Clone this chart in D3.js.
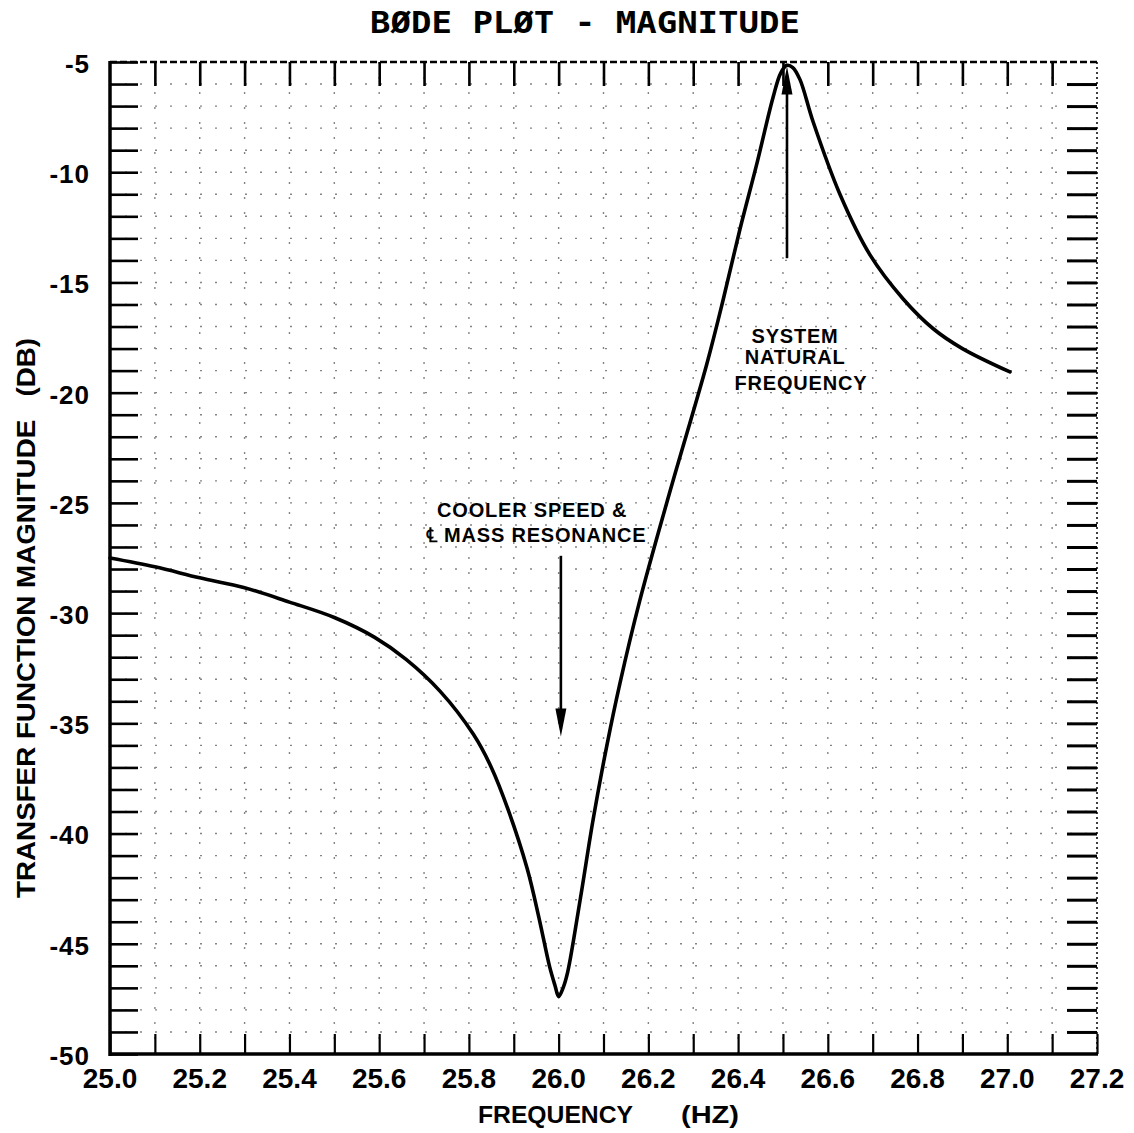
<!DOCTYPE html>
<html>
<head>
<meta charset="utf-8">
<script src="https://cdn.jsdelivr.net/npm/d3@7"></script>
<style>
  html, body { margin: 0; padding: 0; background: #fff; }
  svg { display: block; }
</style>
</head>
<body>
<script>
// ---- data ----
const freqHz = [25.0, 25.1, 25.2, 25.3, 25.4, 25.5, 25.59, 25.66, 25.736, 25.81, 25.85, 25.888, 25.93, 25.957, 25.98, 25.992, 26.0, 26.01, 26.02, 26.048, 26.077, 26.108, 26.137, 26.18, 26.25, 26.33, 26.367, 26.404, 26.442, 26.478, 26.495, 26.509, 26.522, 26.538, 26.567, 26.627, 26.694, 26.768, 26.835, 26.90, 27.006];
const magDb  = [-27.5, -27.9, -28.4, -28.85, -29.5, -30.2, -31.1, -32.1, -33.55, -35.5, -37.0, -38.95, -41.6, -43.9, -46.05, -46.9, -47.4, -47.0, -46.3, -43.0, -39.35, -35.95, -33.15, -29.5, -24.35, -18.72, -15.76, -12.6, -9.6, -6.6, -5.5, -5.15, -5.25, -5.8, -7.7, -11.0, -13.75, -15.75, -17.1, -18.0, -19.06];

const xTickValues = [25.0, 25.2, 25.4, 25.6, 25.8, 26.0, 26.2, 26.4, 26.6, 26.8, 27.0, 27.2];
const xTickLabels = ["25.0", "25.2", "25.4", "25.6", "25.8", "26.0", "26.2", "26.4", "26.6", "26.8", "27.0", "27.2"];
const yTickValues = [-5, -10, -15, -20, -25, -30, -35, -40, -45, -50];
const yTickLabels = ["-5", "-10", "-15", "-20", "-25", "-30", "-35", "-40", "-45", "-50"];

// annotation arrows (data coordinates)
const arrowFreq   = [26.005, 26.509];
const arrowFromDb = [-27.4, -13.9];
const arrowToDb   = [-35.6, -5.2];

// annotation texts (data coordinates of each line's centre / baseline)
const noteLines = ["COOLER SPEED &", "\u2104 MASS RESONANCE", "SYSTEM", "NATURAL", "FREQUENCY"];
const noteFreq  = [25.941, 25.950, 26.527, 26.527, 26.540];
const noteDb    = [-25.64, -26.78, -17.75, -18.72, -19.88];

const titleText = "B\u00D8DE PL\u00D8T - MAGNITUDE";
const xTitle = "FREQUENCY";
const xUnit = "(HZ)";
const yTitle = "TRANSFER FUNCTION MAGNITUDE   (DB)";

// ---- layout ----
const W = 1134, H = 1133;
const pL = 110, pR = 1097, pT = 62, pB = 1054;

const svg = d3.select("body").append("svg").attr("width", W).attr("height", H);

const x = d3.scaleLinear().domain([25.0, 27.2]).range([pL, pR]);
const y = d3.scaleLinear().domain([-50, -5]).range([pB, pT]);

const minorX = d3.range(0, 23).map(i => +(25.0 + i * 0.1).toFixed(2));
const minorY = d3.range(0, 46).map(i => -50 + i);

// dotted grid (sparse, faint)
const grid = svg.append("g").attr("stroke", "#222").attr("stroke-width", 1.4)
  .attr("stroke-dasharray", "2,13").attr("opacity", 0.55);
grid.selectAll("line.v").data(minorX.slice(1, -1)).join("line").attr("class", "v")
  .attr("x1", d => x(d)).attr("x2", d => x(d)).attr("y1", pT).attr("y2", pB);
grid.selectAll("line.h").data(minorY.slice(1, -1)).join("line").attr("class", "h")
  .attr("x1", pL).attr("x2", pR).attr("y1", d => y(d)).attr("y2", d => y(d));

// frame: top dashed, right dotted, left/bottom solid
svg.append("line").attr("x1", pL).attr("x2", pR).attr("y1", pT).attr("y2", pT)
  .attr("stroke", "#000").attr("stroke-width", 2.5).attr("stroke-dasharray", "7,3");
svg.append("line").attr("x1", pR).attr("x2", pR).attr("y1", pT).attr("y2", pB)
  .attr("stroke", "#000").attr("stroke-width", 1.5).attr("stroke-dasharray", "2,3");

// axes through d3 axis generators (ticks inward)
const axL = d3.axisRight(y).tickValues(minorY).tickSize(28).tickFormat("");
const axB = d3.axisTop(x).tickValues(minorX).tickSize(20).tickFormat("");
const axT = d3.axisBottom(x).tickValues(minorX.slice(1, -1)).tickSize(24).tickFormat("");
const axR = d3.axisLeft(y).tickValues(minorY.slice(1, -1)).tickSize(30).tickFormat("");

function styleAxis(g, w) {
  g.select(".domain").remove();
  g.selectAll(".tick line").attr("stroke", "#000").attr("stroke-width", w);
}
svg.append("g").attr("transform", `translate(${pL},0)`).call(axL).call(g => styleAxis(g, 2.6));
svg.append("g").attr("transform", `translate(0,${pB})`).call(axB).call(g => styleAxis(g, 2.2));
svg.append("g").attr("transform", `translate(0,${pT})`).call(axT).call(g => styleAxis(g, 2.6));
svg.append("g").attr("transform", `translate(${pR},0)`).call(axR).call(g => styleAxis(g, 3));

svg.append("line").attr("x1", pL).attr("x2", pL).attr("y1", pT - 1).attr("y2", pB + 2)
  .attr("stroke", "#000").attr("stroke-width", 3.5);
svg.append("line").attr("x1", pL - 1).attr("x2", pR + 1).attr("y1", pB).attr("y2", pB)
  .attr("stroke", "#000").attr("stroke-width", 3.5);

// tick labels
const labelFont = "'Liberation Sans', Arial, Helvetica, sans-serif";
svg.append("g").selectAll("text").data(yTickValues).join("text")
  .attr("x", pL - 20).attr("y", d => y(d) + 4)
  .attr("dominant-baseline", "middle").attr("text-anchor", "end")
  .attr("font-family", labelFont).attr("font-weight", "bold").attr("font-size", 26)
  .attr("letter-spacing", 1)
  .text((d, i) => yTickLabels[i]);

svg.append("g").selectAll("text").data(xTickValues).join("text")
  .attr("x", d => x(d)).attr("y", pB + 34)
  .attr("text-anchor", "middle")
  .attr("font-family", labelFont).attr("font-weight", "bold").attr("font-size", 28)
  .text((d, i) => xTickLabels[i]);

// titles
svg.append("text").attr("x", 370).attr("y", 33)
  .attr("font-family", "'DejaVu Sans Mono', monospace").attr("font-weight", "bold")
  .attr("font-size", 31).attr("textLength", 430).attr("lengthAdjust", "spacingAndGlyphs")
  .text(titleText);

svg.append("text").attr("x", 478).attr("y", 1123)
  .attr("font-family", labelFont).attr("font-weight", "bold").attr("font-size", 24)
  .attr("textLength", 155).attr("lengthAdjust", "spacingAndGlyphs")
  .text(xTitle);
svg.append("text").attr("x", 681).attr("y", 1123)
  .attr("font-family", labelFont).attr("font-weight", "bold").attr("font-size", 24)
  .attr("textLength", 58).attr("lengthAdjust", "spacingAndGlyphs")
  .text(xUnit);

svg.append("text")
  .attr("transform", `translate(35,${(338 + 898) / 2}) rotate(-90)`)
  .attr("text-anchor", "middle")
  .attr("font-family", labelFont).attr("font-weight", "bold").attr("font-size", 25)
  .attr("textLength", 560).attr("lengthAdjust", "spacingAndGlyphs")
  .style("white-space", "pre")
  .text(yTitle);

// curve
const line = d3.line().x((d, i) => x(freqHz[i])).y(d => y(d)).curve(d3.curveCatmullRom.alpha(0.5));
svg.append("path").attr("d", line(magDb))
  .attr("fill", "none").attr("stroke", "#000").attr("stroke-width", 3.6)
  .attr("stroke-linejoin", "round").attr("stroke-linecap", "round");

// annotation arrows
arrowFreq.forEach((f, i) => {
  const ax = x(f), y0 = y(arrowFromDb[i]), y1 = y(arrowToDb[i]);
  const dir = y1 > y0 ? 1 : -1;
  const headLen = 28, headHalf = 5.5;
  svg.append("line").attr("x1", ax).attr("x2", ax).attr("y1", y0).attr("y2", y1 - dir * headLen * 0.5)
    .attr("stroke", "#000").attr("stroke-width", 2.6);
  svg.append("path")
    .attr("d", `M${ax - headHalf},${y1 - dir * headLen} L${ax + headHalf},${y1 - dir * headLen} L${ax},${y1} Z`)
    .attr("fill", "#000");
});

// annotation text
svg.append("g").selectAll("text").data(noteLines).join("text")
  .attr("x", (d, i) => x(noteFreq[i])).attr("y", (d, i) => y(noteDb[i]))
  .attr("text-anchor", "middle")
  .attr("font-family", labelFont).attr("font-weight", "bold").attr("font-size", 20)
  .attr("letter-spacing", 0.8)
  .text(d => d);
</script>
</body>
</html>
